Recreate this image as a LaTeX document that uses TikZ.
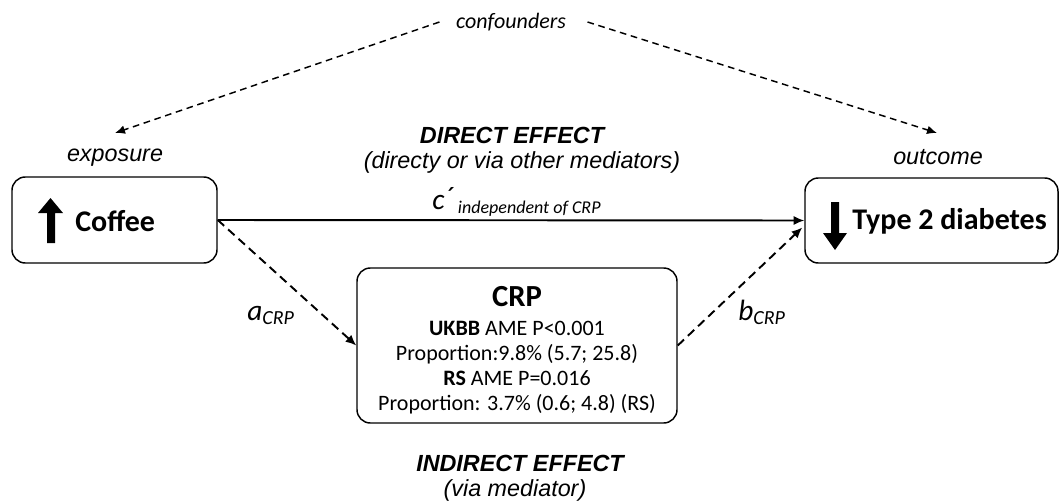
\documentclass[tikz,border=0pt]{standalone}
\usepackage{fontspec}
\setmainfont{Carlito}
\newfontfamily\arial{Liberation Sans}
\usetikzlibrary{arrows.meta,calc}
\tikzset{
  box/.style={draw, line width=1.1pt, rounded corners=10pt, inner sep=0pt},
  conn/.style={line width=1.45pt, -{Latex[length=8pt,width=7pt]}},
  dconn/.style={conn, dash pattern=on 6.5pt off 4pt},
  fconn/.style={line width=1.1pt, -{Latex[length=7.5pt,width=6.5pt]}, dash pattern=on 5pt off 3.5pt},
  lab/.style={font=\arial\itshape\fontsize{17.5}{20}\selectfont, inner sep=1pt},
  heading/.style={font=\arial\bfseries\itshape\fontsize{17.5}{20}\selectfont, inner sep=1pt},
  boxtxt/.style={font=\bfseries\fontsize{22.5}{24}\selectfont, anchor=west, inner sep=0pt},
  pathlab/.style={anchor=base west, inner sep=0pt},
  bigarrow/.style={fill=black, draw=none},
}
\begin{document}
\begin{tikzpicture}[x=0.75pt,y=-0.75pt]
\useasboundingbox (0,0) rectangle (1059,503);
% boxes
\node[box, minimum width=153.75pt, minimum height=64.5pt] (coffee) at (114.5,220) {};
\node[box, minimum width=189.75pt, minimum height=63.75pt] (t2d) at (931.5,220.5) {};
\node[box, minimum width=240pt, minimum height=116.25pt] (crp) at (517,345.5) {};
\node[align=center, inner sep=0pt, font=\fontsize{16.5}{18.75}\selectfont] (crptxt) at (517,350)
  {{\fontsize{23}{24}\selectfont\bfseries CRP}\\[3.2pt]
   \textbf{UKBB} AME P<0.001\\
   Proportion:9.8\% (5.7; 25.8)\\
   \textbf{RS} AME P=0.016\\
   Proportion: 3.7\% (0.6; 4.8) (RS)};
% box contents
\fill[bigarrow] (38,213) -- (50.5,198) -- (63,213) -- (55,213) -- (55,243) -- (47,243) -- (47,213) -- cycle;
\node[boxtxt] (coffeetxt) at (75,221) {Coffee};
\fill[bigarrow] (823,233) -- (835,250) -- (847,233) -- (839,233) -- (839,202) -- (831,202) -- (831,233) -- cycle;
\node[boxtxt] (t2dtxt) at (852,221) {Type 2 diabetes};
% labels
\node[lab] (expo) at (115,158) {exposure};
\node[lab] (outc) at (938,157) {outcome};
\node[heading] (direct) at (512,135) {DIRECT EFFECT};
\node[lab] (directsub) at (522,162) {(directy or via other mediators)};
\node[heading] (indirect) at (520,463) {INDIRECT EFFECT};
\node[lab] (indsub) at (515,490) {(via mediator)};
\node[font=\itshape\fontsize{16.5}{18}\selectfont, inner sep=1pt] (conf) at (511,22) {confounders};
\node[pathlab] (clab) at (432,209)
  {\fontsize{22}{22}\selectfont\itshape c\raisebox{1pt}{´}\,\fontsize{13.5}{14}\selectfont\raisebox{-3pt}{independent of CRP}};
\node[pathlab] (alab) at (247,320)
  {\fontsize{22}{22}\selectfont\itshape a\fontsize{15}{15}\selectfont\raisebox{-3pt}{CRP}};
\node[pathlab] (blab) at (738,320)
  {\fontsize{22}{22}\selectfont\itshape b\fontsize{15}{15}\selectfont\raisebox{-3pt}{CRP}};
% connectors
\coordinate (lt) at (115,133);
\coordinate (rt) at (937,133);
\draw[conn] (coffee.east) -- (t2d.west);
\draw[dconn] (coffee.east) -- (crp.west);
\draw[dconn] (crp.east) -- ($(t2d.west)+(-2,7)$);
\draw[fconn] ($(conf.west)+(-15,0)$) -- (lt);
\draw[fconn] ($(conf.east)+(20,0)$) -- (rt);
\end{tikzpicture}
\end{document}
